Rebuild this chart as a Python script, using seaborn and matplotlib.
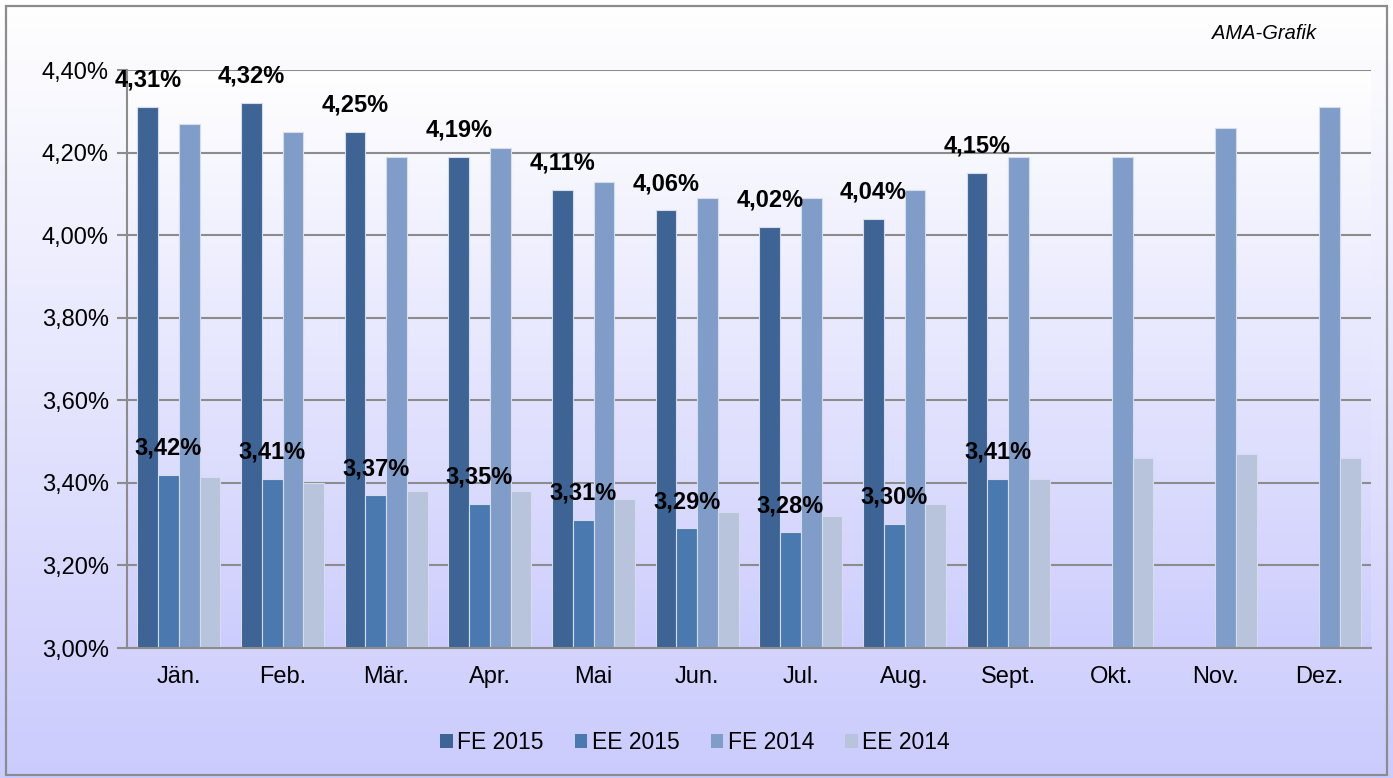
import numpy as np
import pandas as pd
import matplotlib
matplotlib.use("Agg")
import matplotlib.pyplot as plt
from matplotlib.colors import LinearSegmentedColormap
from matplotlib.patches import Rectangle
import seaborn as sns

# Daten
monate = ["Jän.", "Feb.", "Mär.", "Apr.", "Mai", "Jun.", "Jul.", "Aug.",
          "Sept.", "Okt.", "Nov.", "Dez."]
fe_2015 = [4.31, 4.32, 4.25, 4.19, 4.11, 4.06, 4.02, 4.04, 4.15, np.nan, np.nan, np.nan]
ee_2015 = [3.42, 3.41, 3.37, 3.35, 3.31, 3.29, 3.28, 3.30, 3.41, np.nan, np.nan, np.nan]
fe_2014 = [4.27, 4.25, 4.19, 4.21, 4.13, 4.09, 4.09, 4.11, 4.19, 4.19, 4.26, 4.31]
ee_2014 = [3.415, 3.40, 3.38, 3.38, 3.36, 3.33, 3.32, 3.35, 3.41, 3.46, 3.47, 3.46]
serien = ["FE 2015", "EE 2015", "FE 2014", "EE 2014"]
farben = ["#3d6495", "#4a79b0", "#7f9dc8", "#b7c4dc"]

df = pd.DataFrame({"Monat": monate, "FE 2015": fe_2015, "EE 2015": ee_2015,
                   "FE 2014": fe_2014, "EE 2014": ee_2014})
df_long = df.melt(id_vars="Monat", var_name="Serie", value_name="Wert")

sns.set_style("white")
plt.rcParams["font.family"] = ["Liberation Sans", "DejaVu Sans"]
plt.rcParams["text.color"] = "black"
plt.rcParams["xtick.labelcolor"] = "black"
plt.rcParams["ytick.labelcolor"] = "black"

fig = plt.figure(figsize=(13.93, 7.78), dpi=100)

# Hintergrund mit Verlauf
bg = fig.add_axes([0, 0, 1, 1], zorder=-10)
verlauf = LinearSegmentedColormap.from_list("v", ["#ffffff", "#cbcbfd"])
bg.imshow(np.linspace(0, 1, 256).reshape(-1, 1), aspect="auto", cmap=verlauf,
          extent=[0, 1, 0, 1], origin="upper")
bg.set_xlim(0, 1)
bg.set_ylim(0, 1)
bg.axis("off")
fig.patches.append(Rectangle((0.0045, 0.004), 0.991, 0.988, transform=fig.transFigure,
                             fill=False, edgecolor="#8c8c8c", linewidth=1.6))

ax = fig.add_axes([0.0912, 0.167, 0.893, 0.743])
ax.set_facecolor("none")

sns.barplot(data=df_long, x="Monat", y="Wert", hue="Serie", hue_order=serien,
            palette=farben, width=0.8, edgecolor="#d5dcec", linewidth=0.8,
            saturation=1, ax=ax, zorder=3)

ax.imshow(np.linspace(0, 1, 256).reshape(-1, 1), aspect="auto",
          cmap=LinearSegmentedColormap.from_list("p", ["#ffffff", "#cdcdfd"]),
          extent=[-0.5, 11.5, 3.0, 4.4], origin="upper", zorder=0)

ax.set_xlim(-0.5, 11.5)
ax.set_ylim(3.0, 4.4)
ax.set_yticks(np.arange(3.0, 4.41, 0.2))
ax.set_yticklabels([f"{v:.2f}".replace(".", ",") + "%" for v in np.arange(3.0, 4.41, 0.2)])
ax.yaxis.grid(True, color="#8c8c8c", linewidth=1.5, zorder=1)
ax.set_axisbelow(False)
for linie in ax.get_ygridlines():
    linie.set_zorder(1)
ax.set_xlabel("")
ax.set_ylabel("")

ax.set_xticks(np.arange(-0.5, 12, 1), minor=True)
ax.tick_params(axis="x", which="major", length=0, labelsize=17, pad=13, labelcolor="black")
ax.tick_params(axis="x", which="minor", length=6, width=1.5, color="#8c8c8c", direction="out")
ax.tick_params(axis="y", length=7, width=1.5, color="#8c8c8c", direction="out",
               labelsize=17, pad=6, left=True, labelcolor="black")

for s in ["top", "right"]:
    ax.spines[s].set_visible(False)
for s in ["left", "bottom"]:
    ax.spines[s].set_color("#8c8c8c")
    ax.spines[s].set_linewidth(1.5)
    ax.spines[s].set_zorder(4)

# Datenbeschriftungen für 2015
for container in ax.containers[:2]:
    for bar in container:
        h = bar.get_height()
        if np.isnan(h):
            continue
        ax.annotate(f"{h:.2f}".replace(".", ",") + "%",
                    (bar.get_x() + bar.get_width() / 2, h),
                    xytext=(0, 11), textcoords="offset points",
                    ha="center", va="bottom", fontsize=17, fontweight="bold",
                    color="black", zorder=5, annotation_clip=False)

ax.legend_.remove()
handles = [Rectangle((0, 0), 1, 1, facecolor=c, edgecolor="none") for c in farben]
fig.legend(handles, serien, loc="center", bbox_to_anchor=(0.499, 0.045), ncol=4,
           frameon=False, fontsize=16.5, handlelength=0.55, handleheight=0.55,
           handletextpad=0.2, columnspacing=1.35, labelcolor="black")

fig.text(0.945, 0.957, "AMA-Grafik", ha="right", va="center", fontsize=14.5,
         style="italic", color="black")

fig.savefig("out.png", dpi=100)
